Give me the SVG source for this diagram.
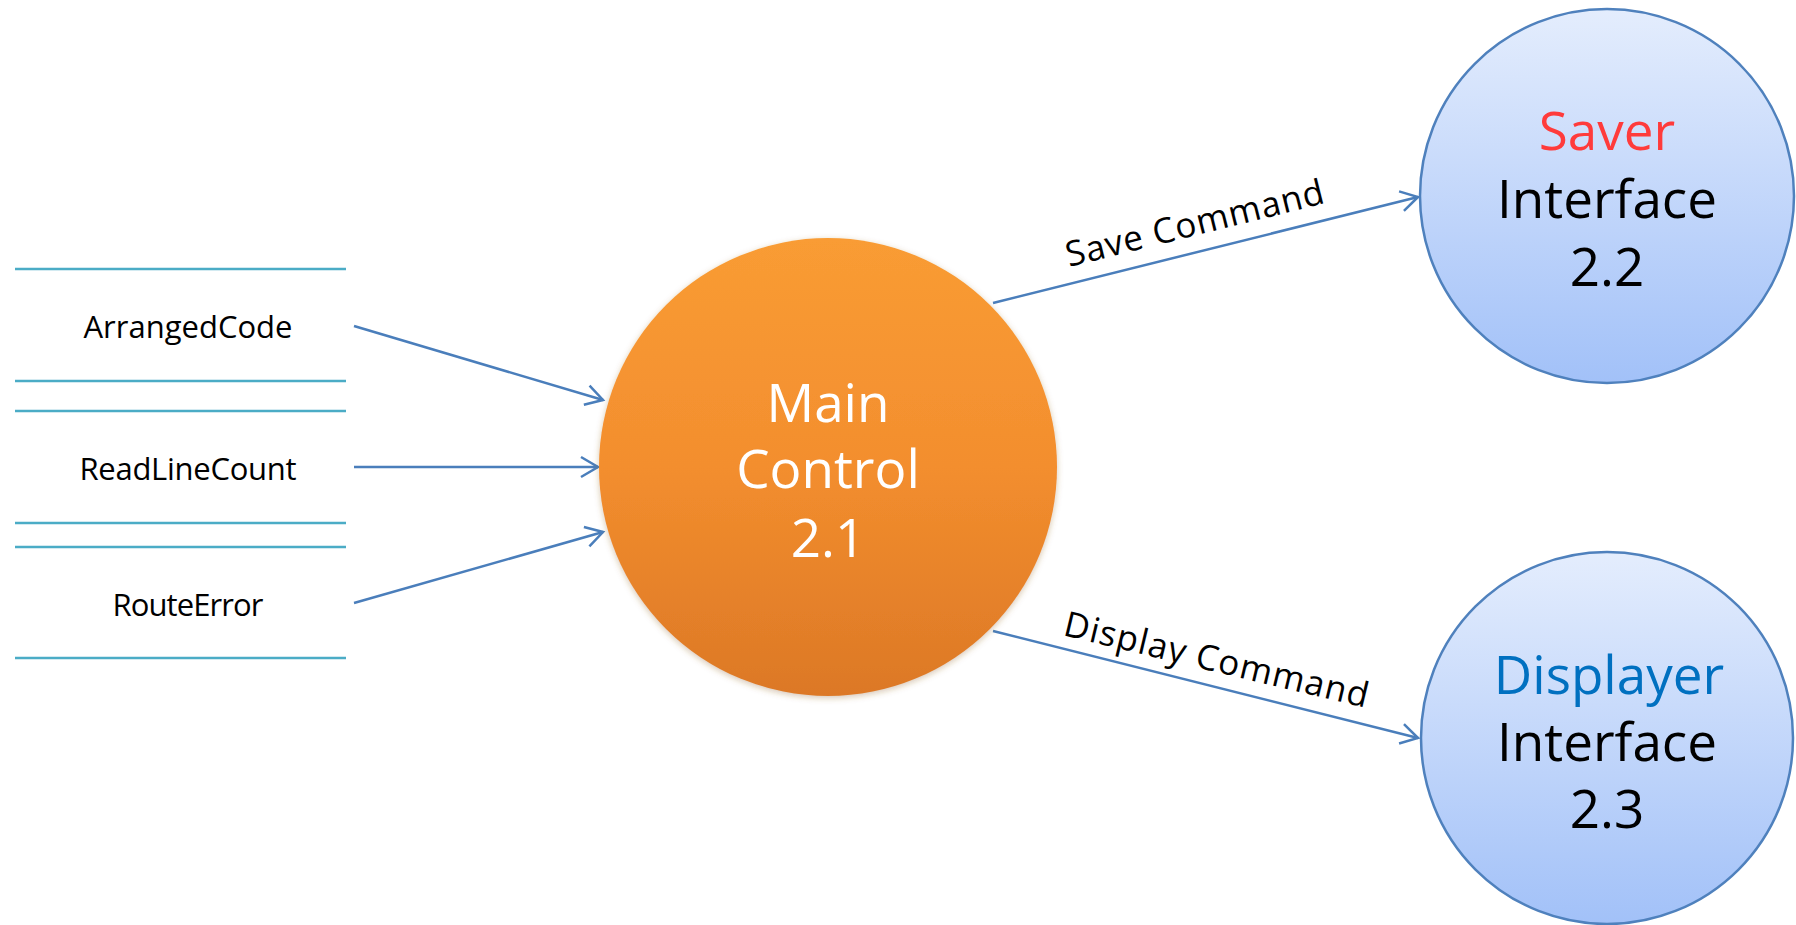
<svg xmlns="http://www.w3.org/2000/svg" width="1796" height="925" viewBox="0 0 1796 925">
<style>
.store{stroke:#4BACC6;stroke-width:2.5;fill:none}
.lbl{font-family:"Open Sans","Noto Sans",sans-serif;font-size:31px;fill:#000;text-anchor:middle}
.flow{stroke:#4A7EBB;stroke-width:2.5;fill:none;marker-end:url(#arr)}
.flbl{font-family:"Open Sans","Noto Sans",sans-serif;font-size:35px;fill:#000}
.big{font-family:"Open Sans","Noto Sans",sans-serif;font-size:53px;text-anchor:middle}
.bubble{stroke:#4F81BD;stroke-width:2.5;fill:url(#blueG)}
</style>
<defs>
<linearGradient id="orG" x1="0" y1="0" x2="0" y2="1">
<stop offset="0" stop-color="#F99C34"/>
<stop offset="0.5" stop-color="#F38E2E"/>
<stop offset="1" stop-color="#DC7826"/>
</linearGradient>
<linearGradient id="blueG" x1="0" y1="0" x2="0" y2="1">
<stop offset="0" stop-color="#E4EDFD"/>
<stop offset="1" stop-color="#A2C1F8"/>
</linearGradient>
<filter id="soft" x="-10%" y="-10%" width="120%" height="120%">
<feGaussianBlur in="SourceAlpha" stdDeviation="3"/>
<feOffset dy="2" result="b"/>
<feFlood flood-color="#8a5a20" flood-opacity="0.35"/>
<feComposite in2="b" operator="in"/>
<feMerge><feMergeNode/><feMergeNode in="SourceGraphic"/></feMerge>
</filter>
<marker id="arr" markerUnits="userSpaceOnUse" markerWidth="22" markerHeight="24" refX="19" refY="12" orient="auto">
<path d="M2,2 L19,12 L2,22" fill="none" stroke="#4A7EBB" stroke-width="2.5"/>
</marker>
</defs>

<g id="store-arrangedcode">
<line class="store" x1="15" y1="269" x2="346" y2="269"/>
<line class="store" x1="15" y1="381" x2="346" y2="381"/>
<text class="lbl" x="188" y="338" textLength="209">ArrangedCode</text>
</g>
<g id="store-readlinecount">
<line class="store" x1="15" y1="411" x2="346" y2="411"/>
<line class="store" x1="15" y1="523" x2="346" y2="523"/>
<text class="lbl" x="188" y="480" textLength="217">ReadLineCount</text>
</g>
<g id="store-routeerror">
<line class="store" x1="15" y1="547" x2="346" y2="547"/>
<line class="store" x1="15" y1="658" x2="346" y2="658"/>
<text class="lbl" x="188" y="616" textLength="151">RouteError</text>
</g>

<g id="connectors">
<line class="flow" x1="354" y1="326" x2="603" y2="400"/>
<line class="flow" x1="354" y1="467" x2="598" y2="467"/>
<line class="flow" x1="354" y1="603" x2="603" y2="532"/>
<line class="flow" x1="993" y1="303" x2="1418" y2="197"/>
<line class="flow" x1="993" y1="631" x2="1418" y2="738"/>
<text class="flbl" transform="translate(1069,267) rotate(-14)" textLength="265">Save Command</text>
<text class="flbl" transform="translate(1062,635) rotate(13.5)" textLength="312">Display Command</text>
</g>

<g id="main-control">
<circle cx="828" cy="467" r="229" fill="url(#orG)" filter="url(#soft)"/>
<text class="big" fill="#FFFFFF" x="828" y="422">Main</text>
<text class="big" fill="#FFFFFF" x="828" y="488">Control</text>
<text class="big" fill="#FFFFFF" x="828" y="557">2.1</text>
</g>

<g id="saver-interface">
<circle class="bubble" cx="1607" cy="196" r="187"/>
<text class="big" fill="#FF3B3B" x="1607" y="150">Saver</text>
<text class="big" fill="#000000" x="1607" y="218">Interface</text>
<text class="big" fill="#000000" x="1607" y="286">2.2</text>
</g>

<g id="displayer-interface">
<circle class="bubble" cx="1607" cy="738" r="186"/>
<text class="big" fill="#0070C0" x="1609" y="694">Displayer</text>
<text class="big" fill="#000000" x="1607" y="761">Interface</text>
<text class="big" fill="#000000" x="1607" y="828">2.3</text>
</g>
</svg>
